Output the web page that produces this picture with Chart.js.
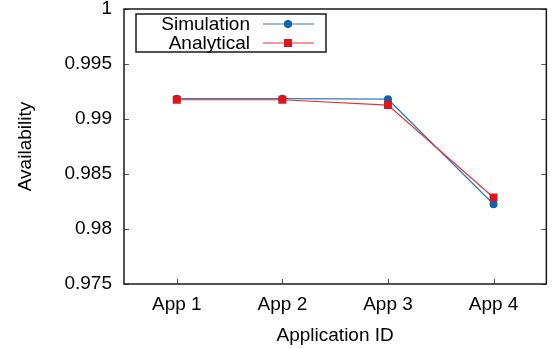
<!DOCTYPE html>
<html>
<head>
<meta charset="utf-8">
<script src="https://cdn.jsdelivr.net/npm/chart.js@4/dist/chart.umd.min.js"></script>
<style>
    html, body { margin: 0; padding: 0; background: #fff; }
    canvas { display: block; }
</style>
</head>
<body>
<canvas id="avail_graph" width="552" height="349"></canvas>
<script>
// data
const categories      = ["App 1", "App 2", "App 3", "App 4"];
const simulation      = [0.99185, 0.99185, 0.99180, 0.98225];
const analytical      = [0.99175, 0.99175, 0.99127, 0.98287];
const y_ticks         = [0.975, 0.98, 0.985, 0.99, 0.995, 1];
const y_tick_labels   = ["0.975", "0.98", "0.985", "0.99", "0.995", "1"];

const FONT = "'Liberation Sans', Arial, sans-serif";

window.addEventListener("load", function () {
    draw_avail_graph();
});

// frame with inward ticks, gnuplot style
const frame_plugin = {
    id: "frame",
    afterDatasetsDraw(chart) {
        const ctx = chart.ctx;
        const a   = chart.chartArea;
        const xs  = chart.scales.x;
        const ys  = chart.scales.y;
        ctx.save();
        ctx.strokeStyle = "#555";
        ctx.lineWidth   = 1;
        ctx.beginPath();
        for (let i = 0; i < ys.ticks.length; i++) {
            const y = Math.round(ys.getPixelForTick(i)) + 0.5;
            ctx.moveTo(a.left, y);  ctx.lineTo(a.left + 5, y);
            ctx.moveTo(a.right, y); ctx.lineTo(a.right - 5, y);
        }
        for (let i = 0; i < xs.ticks.length; i++) {
            const x = Math.round(xs.getPixelForTick(i)) + 0.5;
            ctx.moveTo(x, a.bottom); ctx.lineTo(x, a.bottom - 5);
        }
        ctx.stroke();
        ctx.strokeStyle = "#1a1a1a";
        ctx.lineWidth   = 1.5;
        ctx.strokeRect(a.left, a.top, a.right - a.left, a.bottom - a.top);
        ctx.restore();
    }
};

// boxed legend, text right aligned with sample on the right
const legend_plugin = {
    id: "boxlegend",
    afterDraw(chart) {
        const ctx = chart.ctx;
        const a   = chart.chartArea;
        const bx  = a.left + 12, by = a.top + 5, bw = 190, bh = 38;
        ctx.save();
        ctx.fillStyle = "#fff";
        ctx.fillRect(bx, by, bw, bh);
        ctx.strokeStyle = "#1a1a1a";
        ctx.lineWidth   = 1.5;
        ctx.strokeRect(bx, by, bw, bh);
        ctx.font         = "19px " + FONT;
        ctx.textAlign    = "right";
        ctx.textBaseline = "middle";
        chart.data.datasets.forEach(function (ds, i) {
            const y = by + 10 + i * 19;
            ctx.fillStyle = "#000";
            ctx.fillText(ds.label, bx + 114, y + 1);
            ctx.strokeStyle = ds.borderColor;
            ctx.lineWidth   = 1.2;
            ctx.beginPath();
            ctx.moveTo(bx + 127, y);
            ctx.lineTo(bx + 178, y);
            ctx.stroke();
            ctx.fillStyle = ds.pointBackgroundColor;
            if (ds.pointStyle === "rect") {
                ctx.fillRect(bx + 148, y - 4, 8, 8);
            } else {
                ctx.beginPath();
                ctx.arc(bx + 152, y, 4, 0, Math.PI * 2);
                ctx.fill();
            }
        });
        ctx.restore();
    }
};

function draw_avail_graph() {
    const ctx = document.getElementById("avail_graph").getContext("2d");
    new Chart(ctx, {
        type: "line",
        data: {
            labels: categories,
            datasets: [
                {
                    label: "Simulation",
                    data: simulation,
                    borderColor: "#2f7cc0",
                    borderWidth: 1.2,
                    pointStyle: "circle",
                    pointRadius: 4,
                    pointBackgroundColor: "#0b64b0",
                    pointBorderWidth: 0,
                    tension: 0,
                    order: 2
                },
                {
                    label: "Analytical",
                    data: analytical,
                    borderColor: "#e2323a",
                    borderWidth: 1.2,
                    pointStyle: "rect",
                    pointRadius: 5.66,
                    pointBackgroundColor: "#e0161e",
                    pointBorderWidth: 0,
                    tension: 0,
                    order: 1
                }
            ]
        },
        options: {
            responsive: false,
            animation: false,
            layout: { padding: { top: 9, right: 4, left: 0, bottom: 0 } },
            plugins: {
                legend: { display: false },
                tooltip: { enabled: false }
            },
            scales: {
                x: {
                    type: "category",
                    offset: true,
                    grid: { display: false, drawTicks: false },
                    border: { display: false },
                    ticks: {
                        color: "#000",
                        font: { family: FONT, size: 19 },
                        padding: 9,
                        maxRotation: 0
                    },
                    title: {
                        display: true,
                        text: "Application ID",
                        color: "#000",
                        font: { family: FONT, size: 19, lineHeight: 1 },
                        padding: { top: 0, bottom: 4 }
                    },
                    afterFit(scale) {
                        scale.height = 65;
                        scale.paddingLeft = 0;
                        scale.paddingRight = 0;
                    }
                },
                y: {
                    min: 0.975,
                    max: 1,
                    grid: { display: false, drawTicks: false },
                    border: { display: false },
                    afterBuildTicks(scale) {
                        scale.ticks = y_ticks.map(v => ({ value: v }));
                    },
                    ticks: {
                        color: "#000",
                        font: { family: FONT, size: 19 },
                        padding: 12,
                        callback: function (value) {
                            const i = y_ticks.indexOf(value);
                            return i >= 0 ? y_tick_labels[i] : "";
                        }
                    },
                    title: {
                        display: true,
                        text: "Availability",
                        color: "#000",
                        font: { family: FONT, size: 19, lineHeight: 1 },
                        padding: { top: 16, bottom: 0 }
                    },
                    afterFit(scale) {
                        scale.width = 124;
                        scale.paddingTop = 0;
                        scale.paddingBottom = 0;
                    }
                }
            }
        },
        plugins: [frame_plugin, legend_plugin]
    });
}
</script>
</body>
</html>
